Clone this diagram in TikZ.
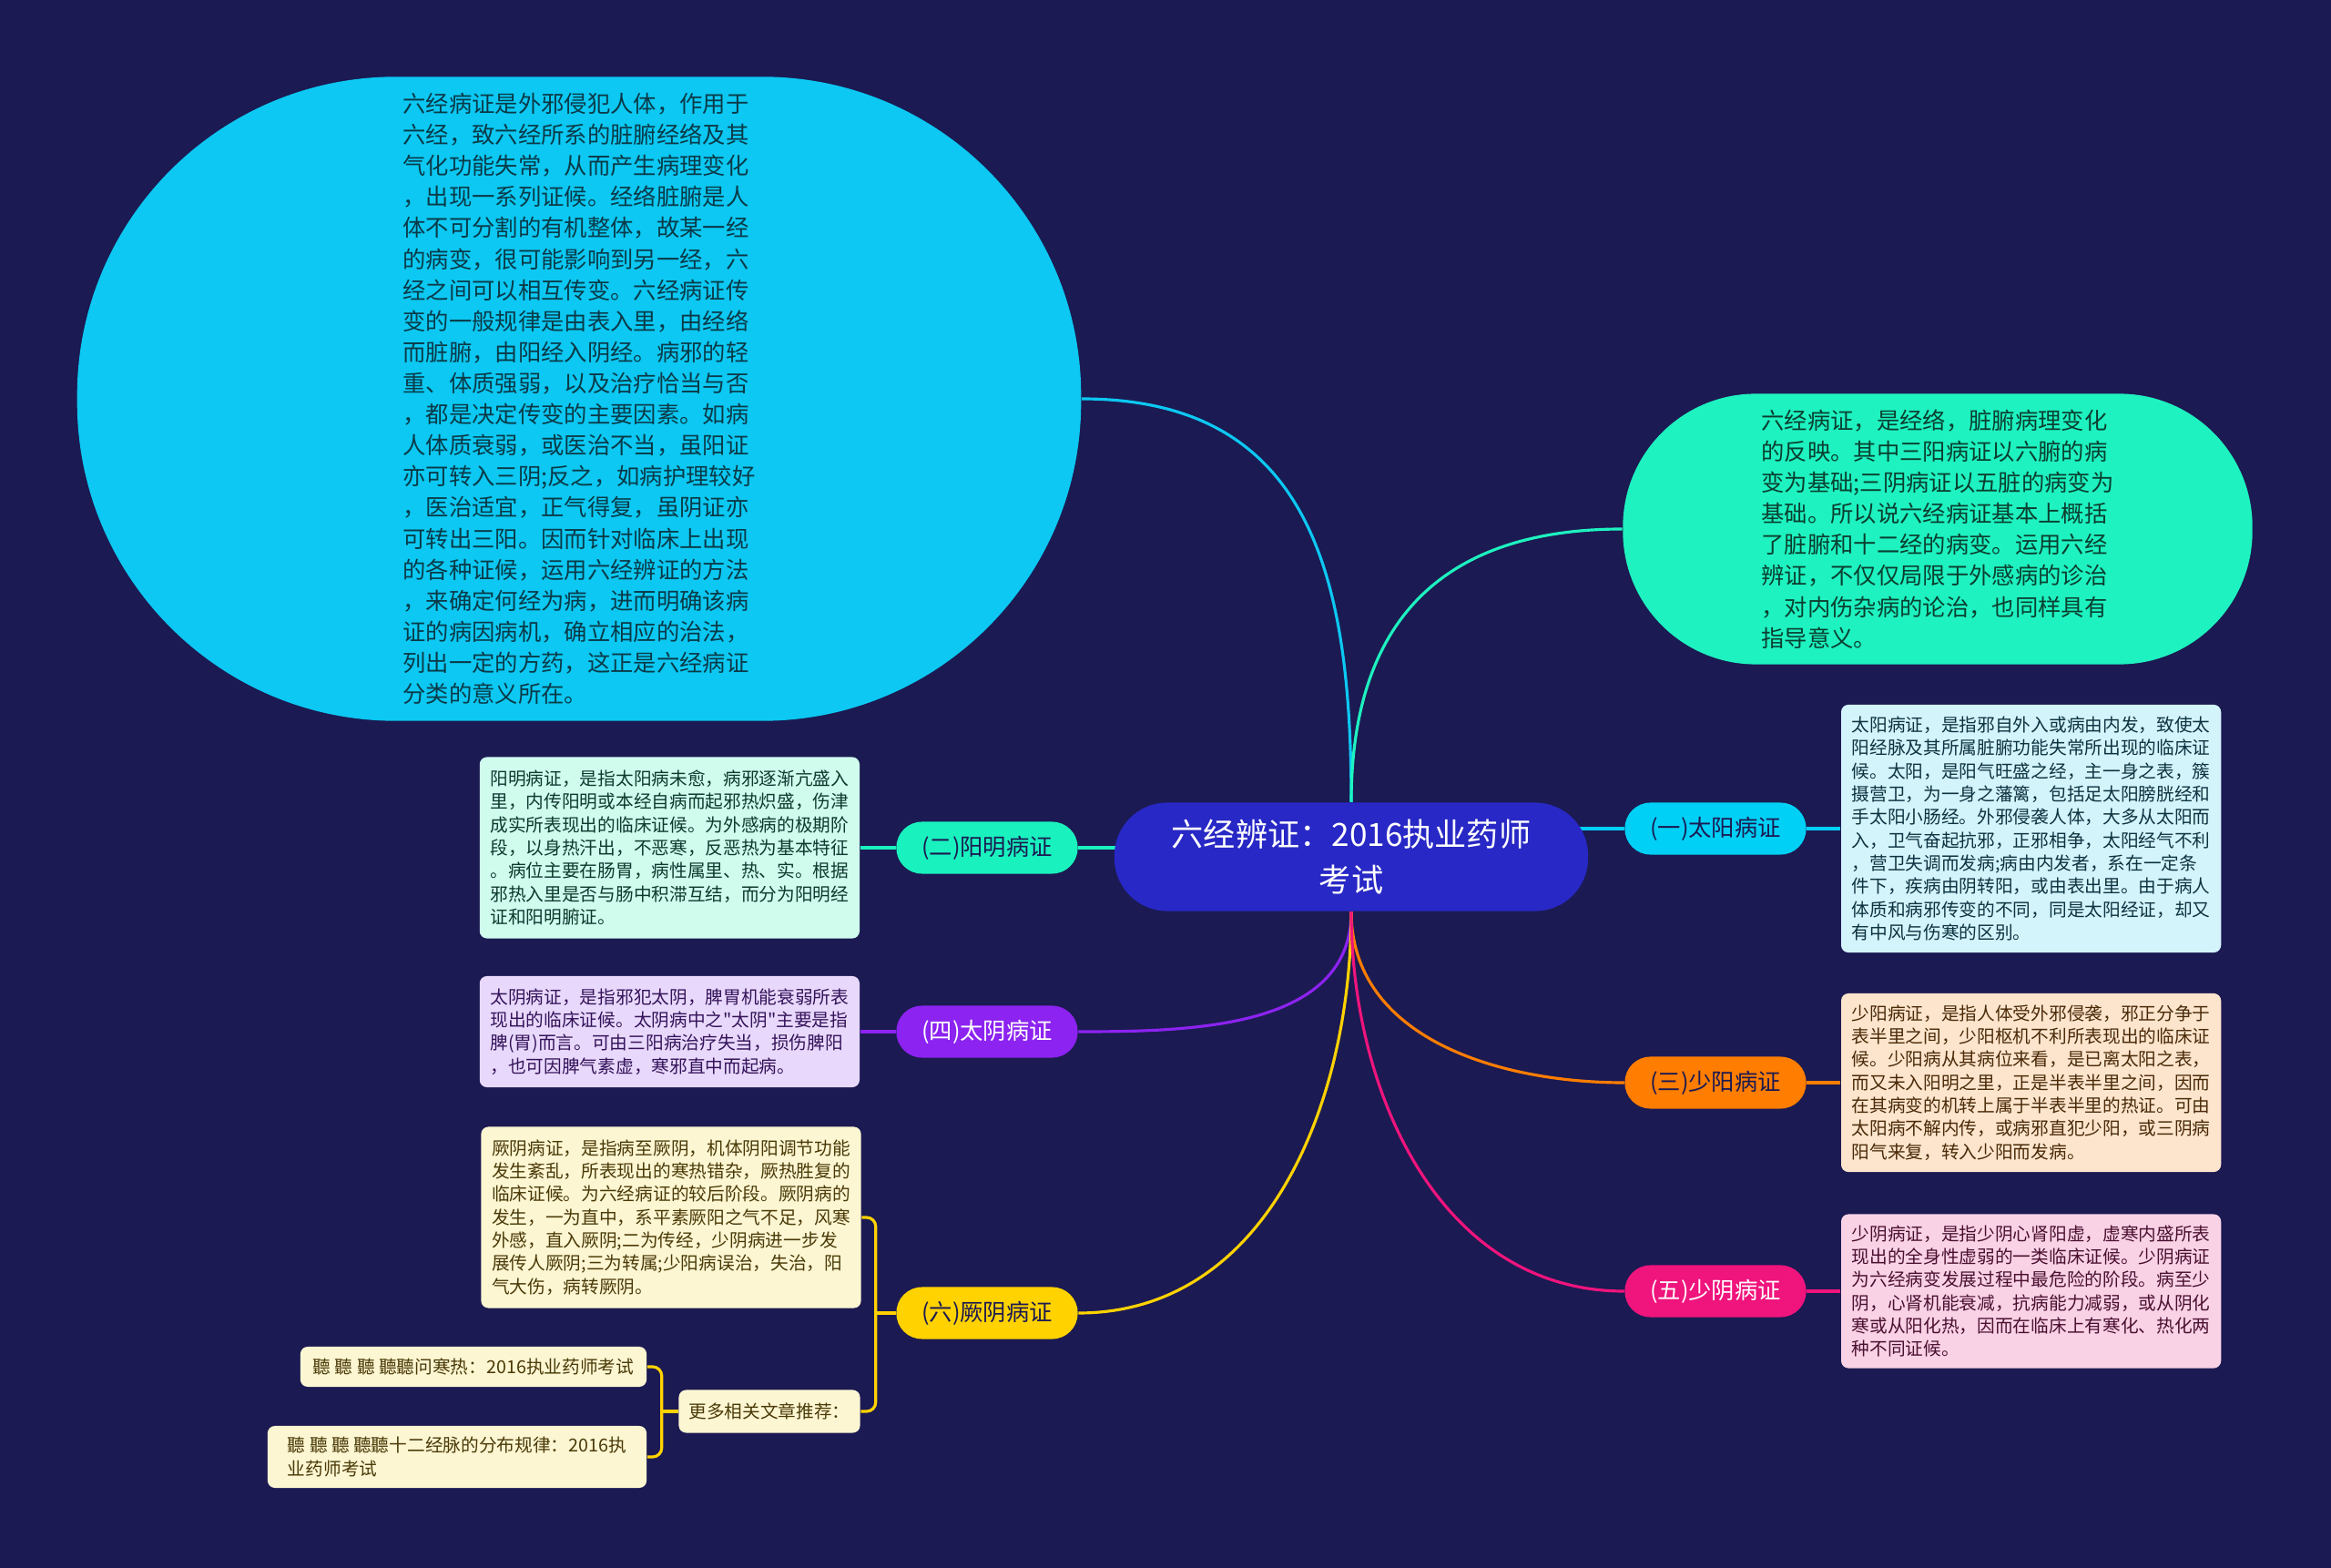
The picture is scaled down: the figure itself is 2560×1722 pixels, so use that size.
\documentclass[tikz,border=0pt]{standalone}
\usepackage{fontspec}
\setmainfont{Noto Sans CJK SC}[Ligatures=TeXOff]
\usepackage{xcolor}
\usepackage{tikz}
\usetikzlibrary{calc, positioning, backgrounds}
\definecolor{NightBlue}{HTML}{1B1A52}
\definecolor{RootBlue}{HTML}{2828C6}
\definecolor{SkyCyan}{HTML}{0CC8F2}
\definecolor{MintGreen}{HTML}{1EF2C0}
\definecolor{TaiyangCyan}{HTML}{00D0F5}
\definecolor{YangmingTeal}{HTML}{19F2BE}
\definecolor{TaiyinPurple}{HTML}{8C23F0}
\definecolor{ShaoyangOrange}{HTML}{FF7D00}
\definecolor{ShaoyinPink}{HTML}{F0147D}
\definecolor{JueyinYellow}{HTML}{FFD200}
\definecolor{TaiyangFill}{HTML}{D4F4FC}
\definecolor{YangmingFill}{HTML}{D0FCEE}
\definecolor{TaiyinFill}{HTML}{E8D9FC}
\definecolor{ShaoyangFill}{HTML}{FDE5CD}
\definecolor{ShaoyinFill}{HTML}{FAD2E6}
\definecolor{JueyinFill}{HTML}{FDF6D2}
\definecolor{TaiyangInk}{HTML}{0D3340}
\definecolor{YangmingInk}{HTML}{0D3A2E}
\definecolor{TaiyinInk}{HTML}{35135A}
\definecolor{ShaoyangInk}{HTML}{4A2A08}
\definecolor{ShaoyinInk}{HTML}{4A1030}
\definecolor{JueyinInk}{HTML}{4A3A08}
\definecolor{SkyInk}{HTML}{0A3A48}
\definecolor{MintInk}{HTML}{0A3F30}

\begin{document}
\begin{tikzpicture}[
  x=0.01cm, y=-0.01cm,
  node distance=0.37cm and 0.37cm,
  root/.style={rectangle, fill=RootBlue, rounded corners=0.58cm, minimum width=5.2cm, minimum height=1.19cm, align=center, text=white, font=\fontsize{10}{14.2}\selectfont},
  bubble/.style={rectangle, align=left, inner sep=0pt, font=\fontsize{7.2}{9.7}\selectfont},
  branch/.style={rectangle, rounded corners=0.28cm, minimum width=1.99cm, minimum height=0.57cm, inner sep=0pt, font=\fontsize{7.2}{8.6}\selectfont},
  detail/.style={rectangle, rounded corners=0.08cm, minimum width=4.17cm, align=left, inner sep=0pt, font=\fontsize{5.6}{7.2}\selectfont},
  wire/.style={line width=0.9pt, draw=#1}
]
  \begin{scope}[on background layer]
    \path[use as bounding box, fill=NightBlue] (0,0) rectangle (2560,1722);
  \end{scope}

  % centre and the two big bubbles
  \node[root] (root) at (1484,941) {六经辨证：2016执业药师\\考试};
  \node[bubble, fill=SkyCyan, text=SkyInk, minimum width=11.02cm, minimum height=7.07cm, rounded corners=3.5cm] (overview) at (636,438) {六经病证是外邪侵犯人体，作用于\\六经，致六经所系的脏腑经络及其\\气化功能失常，从而产生病理变化\\，出现一系列证候。经络脏腑是人\\体不可分割的有机整体，故某一经\\的病变，很可能影响到另一经，六\\经之间可以相互传变。六经病证传\\变的一般规律是由表入里，由经络\\而脏腑，由阳经入阴经。病邪的轻\\重、体质强弱，以及治疗恰当与否\\，都是决定传变的主要因素。如病\\人体质衰弱，或医治不当，虽阳证\\亦可转入三阴;反之，如病护理较好\\，医治适宜，正气得复，虽阴证亦\\可转出三阳。因而针对临床上出现\\的各种证候，运用六经辨证的方法\\，来确定何经为病，进而明确该病\\证的病因病机，确立相应的治法，\\列出一定的方药，这正是六经病证\\分类的意义所在。};
  \node[bubble, fill=MintGreen, text=MintInk, minimum width=6.91cm, minimum height=2.97cm, rounded corners=1.46cm] (meaning) at (2128,581) {六经病证，是经络，脏腑病理变化\\的反映。其中三阳病证以六腑的病\\变为基础;三阴病证以五脏的病变为\\基础。所以说六经病证基本上概括\\了脏腑和十二经的病变。运用六经\\辨证，不仅仅局限于外感病的诊治\\，对内伤杂病的论治，也同样具有\\指导意义。};

  % branches
  \node[branch, fill=TaiyangCyan, text=NightBlue] (taiyang) at (1884,910) {(一)太阳病证};
  \node[branch, fill=ShaoyangOrange, text=NightBlue] (shaoyang) at (1884,1189) {(三)少阳病证};
  \node[branch, fill=ShaoyinPink, text=white] (shaoyin) at (1884,1418) {(五)少阴病证};
  \node[branch, fill=YangmingTeal, text=NightBlue] (yangming) at (1084,931) {(二)阳明病证};
  \node[branch, fill=TaiyinPurple, text=white] (taiyin) at (1084,1133) {(四)太阴病证};
  \node[branch, fill=JueyinYellow, text=NightBlue] (jueyin) at (1084,1442) {(六)厥阴病证};

  % details
  \node[detail, fill=TaiyangFill, text=TaiyangInk, minimum height=2.72cm, right=of taiyang] (taiyangtxt) {太阳病证，是指邪自外入或病由内发，致使太\\阳经脉及其所属脏腑功能失常所出现的临床证\\候。太阳，是阳气旺盛之经，主一身之表，簇\\摄营卫，为一身之藩篱，包括足太阳膀胱经和\\手太阳小肠经。外邪侵袭人体，大多从太阳而\\入，卫气奋起抗邪，正邪相争，太阳经气不利\\，营卫失调而发病;病由内发者，系在一定条\\件下，疾病由阴转阳，或由表出里。由于病人\\体质和病邪传变的不同，同是太阳经证，却又\\有中风与伤寒的区别。};
  \node[detail, fill=ShaoyangFill, text=ShaoyangInk, minimum height=1.96cm, right=of shaoyang] (shaoyangtxt) {少阳病证，是指人体受外邪侵袭，邪正分争于\\表半里之间，少阳枢机不利所表现出的临床证\\候。少阳病从其病位来看，是已离太阳之表，\\而又未入阳明之里，正是半表半里之间，因而\\在其病变的机转上属于半表半里的热证。可由\\太阳病不解内传，或病邪直犯少阳，或三阴病\\阳气来复，转入少阳而发病。};
  \node[detail, fill=ShaoyinFill, text=ShaoyinInk, minimum height=1.69cm, right=of shaoyin] (shaoyintxt) {少阴病证，是指少阴心肾阳虚，虚寒内盛所表\\现出的全身性虚弱的一类临床证候。少阴病证\\为六经病变发展过程中最危险的阶段。病至少\\阴，心肾机能衰减，抗病能力减弱，或从阴化\\寒或从阳化热，因而在临床上有寒化、热化两\\种不同证候。};
  \node[detail, fill=YangmingFill, text=YangmingInk, minimum height=1.99cm, left=0.39cm of yangming] (yangmingtxt) {阳明病证，是指太阳病未愈，病邪逐渐亢盛入\\里，内传阳明或本经自病而起邪热炽盛，伤津\\成实所表现出的临床证候。为外感病的极期阶\\段，以身热汗出，不恶寒，反恶热为基本特征\\。病位主要在肠胃，病性属里、热、实。根据\\邪热入里是否与肠中积滞互结，而分为阳明经\\证和阳明腑证。};
  \node[detail, fill=TaiyinFill, text=TaiyinInk, minimum height=1.22cm, left=0.39cm of taiyin] (taiyintxt) {太阴病证，是指邪犯太阴，脾胃机能衰弱所表\\现出的临床证候。太阴病中之"太阴"主要是指\\脾(胃)而言。可由三阳病治疗失当，损伤脾阳\\，也可因脾气素虚，寒邪直中而起病。};
  \node[detail, fill=JueyinFill, text=JueyinInk, minimum height=1.99cm] (jueyintxt) at (737,1337) {厥阴病证，是指病至厥阴，机体阴阳调节功能\\发生紊乱，所表现出的寒热错杂，厥热胜复的\\临床证候。为六经病证的较后阶段。厥阴病的\\发生，一为直中，系平素厥阳之气不足，风寒\\外感，直入厥阴;二为传经，少阴病进一步发\\展传人厥阴;三为转属;少阳病误治，失治，阳\\气大伤，病转厥阴。};
  \node[detail, fill=JueyinFill, text=JueyinInk, minimum width=1.99cm, minimum height=0.47cm, align=center] (more) at (845,1550) {更多相关文章推荐：};
  \node[detail, fill=JueyinFill, text=JueyinInk, minimum width=3.8cm, minimum height=0.44cm, align=center] (article1) at (520,1501) {聽 聽 聽 聽聽问寒热：2016执业药师考试};
  \node[detail, fill=JueyinFill, text=JueyinInk, minimum width=4.16cm, minimum height=0.68cm] (article2) at (502,1600) {聽 聽 聽 聽聽十二经脉的分布规律：2016执\\业药师考试};

  \coordinate (jueyinfork) at ($(jueyin.west)+(-22,0)$);
  \coordinate (morefork) at ($(more.west)+(-18,0)$);

  % connectors
  \begin{scope}[on background layer]
    \draw[wire=SkyCyan] (root.north) to[out=90, in=0, looseness=1.2] (overview.east);
    \draw[wire=MintGreen] (root.north) to[out=90, in=180, looseness=1.2] (meaning.west);
    \draw[wire=TaiyangCyan] (root.center |- taiyang.west) -- (taiyang.west);
    \draw[wire=YangmingTeal] (root.center |- yangming.east) -- (yangming.east);
    \draw[wire=TaiyinPurple] (root.south) to[out=-90, in=0] (taiyin.east);
    \draw[wire=JueyinYellow] (root.south) to[out=-90, in=0] (jueyin.east);
    \draw[wire=ShaoyangOrange] (root.south) to[out=-90, in=180] (shaoyang.west);
    \draw[wire=ShaoyinPink] (root.south) to[out=-90, in=180] (shaoyin.west);
  \end{scope}
  \draw[wire=TaiyangCyan] (taiyang) -- (taiyangtxt);
  \draw[wire=ShaoyangOrange] (shaoyang) -- (shaoyangtxt);
  \draw[wire=ShaoyinPink] (shaoyin) -- (shaoyintxt);
  \draw[wire=YangmingTeal] (yangming) -- (yangmingtxt);
  \draw[wire=TaiyinPurple] (taiyin) -- (taiyintxt);
  \draw[wire=JueyinYellow] (jueyin.west) -- (jueyinfork);
  \draw[wire=JueyinYellow, rounded corners=0.1cm] (jueyintxt.east) -| (jueyinfork) |- (more.east);
  \draw[wire=JueyinYellow] (more.west) -- (morefork);
  \draw[wire=JueyinYellow, rounded corners=0.1cm] (article1.east) -| (morefork) |- (article2.east);
\end{tikzpicture}
\end{document}
